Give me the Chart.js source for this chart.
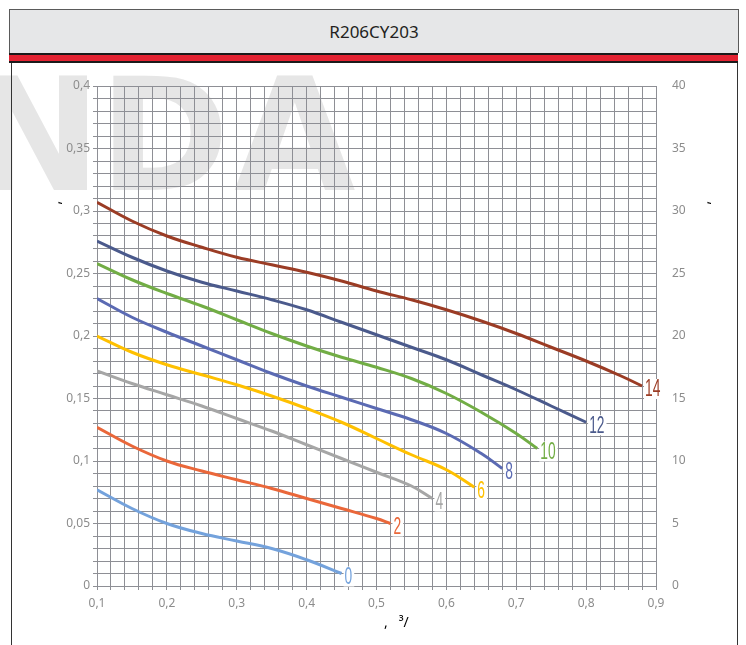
<!DOCTYPE html>
<html lang="en">
<head>
  <meta charset="UTF-8">
  <title>R206CY203</title>
  <style>
    body {
      margin: 0;
      background: #ffffff;
      font-family: "Noto Sans", Arial, sans-serif;
    }

    #page {
      position: relative;
      width: 746px;
      height: 645px;
      overflow: hidden;
    }

    #chartCanvas {
      position: absolute;
      left: 0;
      top: 0;
    }

    #titleBox {
      position: absolute;
      left: 9px;
      top: 9px;
      width: 728px;
      height: 43px;
      background: #e6e7e8;
      border: 1px solid #5a5a5a;
      border-bottom: none;
      text-align: center;
      line-height: 44px;
      font-size: 17px;
      color: #231f20;
    }

    #redBand {
      position: absolute;
      left: 9px;
      top: 53px;
      width: 729px;
      height: 6px;
      background: #e32232;
      border-top: 2px solid #1a1a1a;
      border-bottom: 2px solid #1a1a1a;
    }

    #frame {
      position: absolute;
      left: 11px;
      top: 63px;
      width: 725px;
      height: 600px;
      border-left: 1px solid #333;
      border-right: 1px solid #333;
      pointer-events: none;
    }

    .axis-title {
      position: absolute;
      font-size: 14px;
      color: #000;
    }
  </style>
</head>
<body>
  <div id="page">
    <canvas id="chartCanvas" width="746" height="645"></canvas>
    <div id="titleBox">R206CY203</div>
    <div id="redBand"></div>
    <div id="frame"></div>
    <!-- axis titles: only the punctuation survives in the original -->
    <span class="axis-title" style="left:53px; top:193px; transform:rotate(-90deg);">,</span>
    <span class="axis-title" style="left:702px; top:193px; transform:rotate(-90deg);">,</span>
    <span class="axis-title" style="left:384px; top:612px;">,&nbsp;&nbsp;&nbsp;³/</span>
  </div>

  <script src="https://cdn.jsdelivr.net/npm/chart.js"></script>
  <script>
    // flow (x) and pressure (y) points
    const x0 = [0.1, 0.15, 0.2, 0.25, 0.3, 0.35, 0.4, 0.45];
    const y0 = [0.077, 0.062, 0.050, 0.042, 0.036, 0.030, 0.021, 0.010];

    const x2 = [0.1, 0.15, 0.2, 0.25, 0.3, 0.35, 0.4, 0.45, 0.5, 0.52];
    const y2 = [0.127, 0.112, 0.100, 0.092, 0.085, 0.078, 0.070, 0.062, 0.054, 0.050];

    const x4 = [0.1, 0.15, 0.2, 0.25, 0.3, 0.35, 0.4, 0.45, 0.5, 0.55, 0.58];
    const y4 = [0.172, 0.162, 0.153, 0.144, 0.134, 0.124, 0.113, 0.102, 0.091, 0.080, 0.070];

    const x6 = [0.1, 0.15, 0.2, 0.25, 0.3, 0.35, 0.4, 0.45, 0.5, 0.55, 0.6, 0.64];
    const y6 = [0.200, 0.187, 0.177, 0.169, 0.161, 0.152, 0.142, 0.131, 0.118, 0.105, 0.093, 0.079];

    const x8 = [0.1, 0.15, 0.2, 0.25, 0.3, 0.35, 0.4, 0.45, 0.5, 0.55, 0.6, 0.65, 0.68];
    const y8 = [0.230, 0.215, 0.203, 0.192, 0.181, 0.170, 0.160, 0.151, 0.142, 0.133, 0.122, 0.106, 0.094];

    const x10 = [0.1, 0.15, 0.2, 0.25, 0.3, 0.35, 0.4, 0.45, 0.5, 0.55, 0.6, 0.65, 0.7, 0.73];
    const y10 = [0.258, 0.245, 0.234, 0.224, 0.213, 0.202, 0.192, 0.183, 0.175, 0.166, 0.154, 0.139, 0.122, 0.110];

    const x12 = [0.1, 0.15, 0.2, 0.25, 0.3, 0.35, 0.4, 0.45, 0.5, 0.55, 0.6, 0.65, 0.7, 0.75, 0.8];
    const y12 = [0.276, 0.263, 0.252, 0.243, 0.236, 0.229, 0.221, 0.211, 0.201, 0.191, 0.181, 0.169, 0.157, 0.144, 0.131];

    const x14 = [0.1, 0.15, 0.2, 0.25, 0.3, 0.35, 0.4, 0.45, 0.5, 0.55, 0.6, 0.65, 0.7, 0.75, 0.8, 0.85, 0.88];
    const y14 = [0.307, 0.292, 0.280, 0.271, 0.263, 0.257, 0.251, 0.244, 0.236, 0.229, 0.221, 0.212, 0.202, 0.191, 0.180, 0.168, 0.160];

    const curveNames = ['0', '2', '4', '6', '8', '10', '12', '14'];
    const curveX = [x0, x2, x4, x6, x8, x10, x12, x14];
    const curveY = [y0, y2, y4, y6, y8, y10, y12, y14];
    const curveColors = ['#74a2dc', '#ea673a', '#a6a6a6', '#ffc000', '#5b6ab3', '#72ad45', '#4b5a8c', '#9b3c25'];

    const gridColor = '#8e8f95';
    const tickColor = '#8c8c8c';

    function commaNum(v) {
      return String(Math.round(v * 100) / 100).replace('.', ',');
    }

    // big grey watermark behind the grid
    const watermark = {
      id: 'watermark',
      beforeDraw(chart) {
        const ctx = chart.ctx;
        ctx.save();
        ctx.fillStyle = '#e6e6e6';
        ctx.font = 'bold 157px "DejaVu Sans", sans-serif';
        ctx.textBaseline = 'alphabetic';
        ctx.fillText('N', -30, 190);
        ctx.fillText('D', 99, 190);
        ctx.fillText('A', 234, 190);
        ctx.restore();
      }
    };

    // number written at the end of each curve, on a white patch
    const endLabels = {
      id: 'endLabels',
      afterDatasetsDraw(chart) {
        const ctx = chart.ctx;
        ctx.save();
        ctx.font = '23px "Liberation Sans", Arial, sans-serif';
        ctx.textBaseline = 'middle';
        chart.data.datasets.forEach((ds, i) => {
          const meta = chart.getDatasetMeta(i);
          const pt = meta.data[meta.data.length - 1];
          const sx = 0.6;
          const w = ctx.measureText(ds.label).width * sx;
          const lx = pt.x + 3;
          const ly = pt.y + 3;
          ctx.fillStyle = '#ffffff';
          ctx.fillRect(lx - 1, ly - 10, w + 3, 20);
          ctx.save();
          ctx.translate(lx, ly);
          ctx.scale(sx, 1);
          ctx.fillStyle = ds.borderColor;
          ctx.fillText(ds.label, 0, 1);
          ctx.restore();
        });
        ctx.restore();
      }
    };

    const datasets = curveNames.map((name, i) => ({
      label: name,
      data: curveX[i].map((x, j) => ({ x: x, y: curveY[i][j] })),
      borderColor: curveColors[i],
      borderWidth: 3,
      pointRadius: 0,
      fill: false,
      tension: 0.4,
      yAxisID: 'y'
    }));

    new Chart(document.getElementById('chartCanvas').getContext('2d'), {
      type: 'line',
      data: { datasets: datasets },
      options: {
        responsive: false,
        animation: false,
        layout: { padding: { top: 86, left: 0, right: 0, bottom: 0 } },
        plugins: {
          legend: { display: false },
          tooltip: { enabled: false }
        },
        scales: {
          x: {
            type: 'linear',
            min: 0.1,
            max: 0.9,
            grid: { color: gridColor, tickLength: 4, tickColor: gridColor },
            border: { color: gridColor },
            ticks: {
              stepSize: 0.02,
              autoSkip: false,
              maxRotation: 0,
              padding: 6,
              color: tickColor,
              font: { family: '"Noto Sans", Arial, sans-serif', size: 12 },
              callback: v => (Math.round(v * 100) % 10 === 0 ? commaNum(v) : '')
            },
            afterFit(scale) { scale.height = 59; }
          },
          y: {
            position: 'left',
            min: 0,
            max: 0.4,
            grid: { color: gridColor, tickLength: 4, tickColor: gridColor },
            border: { color: gridColor },
            ticks: {
              stepSize: 0.01,
              autoSkip: false,
              padding: 3,
              color: tickColor,
              font: { family: '"Noto Sans", Arial, sans-serif', size: 12 },
              callback: v => (Math.round(v * 100) % 5 === 0 ? commaNum(v) : '')
            },
            afterFit(scale) { scale.width = 97; }
          },
          y2: {
            position: 'right',
            min: 0,
            max: 40,
            grid: { display: false },
            border: { display: false },
            ticks: {
              stepSize: 5,
              padding: 8,
              color: tickColor,
              font: { family: '"Noto Sans", Arial, sans-serif', size: 12 }
            },
            afterFit(scale) { scale.width = 90; }
          }
        }
      },
      plugins: [watermark, endLabels]
    });
  </script>
</body>
</html>
